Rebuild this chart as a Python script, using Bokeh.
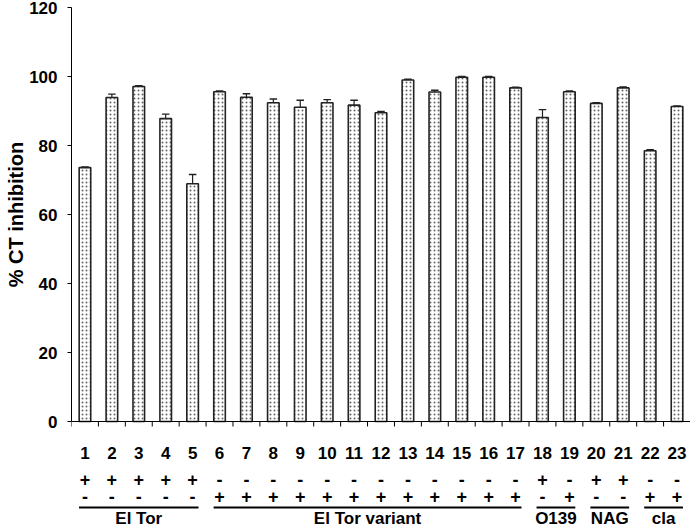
from bokeh.plotting import figure
from bokeh.models import Range1d, FixedTicker, Label, Title
from bokeh.core.properties import value
from bokeh.embed import file_html
from bokeh.resources import INLINE

# ---- data ----
strains = [str(i) for i in range(1, 24)]
inhibition = [73.6, 93.9, 97.1, 87.8, 68.9, 95.6, 94.0, 92.4, 91.1, 92.4, 91.7, 89.5,
              99.0, 95.5, 99.8, 99.8, 96.7, 88.1, 95.6, 92.2, 96.7, 78.5, 91.3]
error = [0.2, 1.0, 0.2, 1.3, 2.7, 0.2, 1.0, 1.1, 2.0, 0.9, 1.4, 0.4,
         0.2, 0.5, 0.2, 0.2, 0.2, 2.3, 0.2, 0.2, 0.3, 0.3, 0.2]
ct_et = ["+"] * 5 + ["-"] * 12 + ["+", "-", "+", "+", "-", "-"]
ct_cla = ["-"] * 5 + ["+"] * 12 + ["-", "+", "-", "-", "+", "+"]
groups = ["El Tor", "El Tor variant", "O139", "NAG", "cla"]
group_first = [1, 6, 18, 20, 22]
group_last = [5, 17, 19, 21, 23]
y_ticks = [0, 20, 40, 60, 80, 100, 120]
y_title = "% CT inhibition"

# ---- layout ----
W, H = 690, 528
LEFT, TOP = 71, 7
AXIS_PX = 414          # pixels from 0 to 120
BELOW_PX = H - TOP - AXIS_PX
PPU = AXIS_PX / 120.0
y_min = -BELOW_PX / PPU
n = len(strains)
CAT_PX = (W - LEFT) / n
TITLE_PX = 20
TITLE_LEN = 7.28 * TITLE_PX   # approx. rendered length of the title


def dy(px):
    return -px / PPU


def dx(page_x):
    return 0.5 + (page_x - LEFT) / CAT_PX


FONT = value("Liberation Sans")
xs = list(range(1, n + 1))

p = figure(width=W, height=H, output_backend="svg", toolbar_location=None,
           x_range=Range1d(0.5, n + 0.5), y_range=Range1d(y_min, 120),
           x_axis_location=None, min_border_left=LEFT, min_border_right=0,
           min_border_top=TOP, min_border_bottom=0)
p.outline_line_color = None
p.grid.grid_line_color = None
p.background_fill_color = "white"

ya = p.yaxis[0]
ya.ticker = FixedTicker(ticks=y_ticks)
ya.bounds = (0, 120)
ya.major_label_text_font = "Liberation Sans"
ya.major_label_text_font_style = "bold"
ya.major_label_text_font_size = "17px"
ya.major_label_text_color = "black"
ya.major_label_standoff = 10
ya.major_tick_out = 4
ya.major_tick_in = 0
ya.minor_tick_out = 0
ya.minor_tick_in = 0
ya.axis_line_color = "black"
ya.major_tick_line_color = "black"

# y axis title, placed so it is centred on the 0-120 span
axis_mid = TOP + AXIS_PX / 2.0
title_offset = H - (axis_mid + TITLE_LEN / 2.0)
p.add_layout(Title(text=y_title, align="left", offset=title_offset,
                   standoff=0, text_font="Liberation Sans", text_font_style="bold",
                   text_font_size="%dpx" % TITLE_PX, text_color="black"), "left")

# bars
p.vbar(x=xs, top=inhibition, bottom=0, width=0.43, fill_color="white",
       line_color="#222222", line_width=1.6, hatch_pattern="dot",
       hatch_color="#666666", hatch_scale=4, hatch_weight=1)

# error bars (upper only)
upper = [v + e for v, e in zip(inhibition, error)]
p.segment(x0=xs, y0=inhibition, x1=xs, y1=upper, line_color="#222222", line_width=1.2)
p.segment(x0=[x - 0.14 for x in xs], y0=upper, x1=[x + 0.14 for x in xs], y1=upper,
          line_color="#222222", line_width=1.4)

# x axis line and ticks at y = 0
p.segment(x0=[0.5], y0=[0], x1=[n + 0.5], y1=[0], line_color="black", line_width=1)
bounds = [i + 0.5 for i in range(0, n + 1)]
p.segment(x0=bounds, y0=[0] * len(bounds), x1=bounds, y1=[dy(5)] * len(bounds),
          line_color="black", line_width=1)

txt = dict(text_align="center", text_baseline="middle", text_font=FONT,
           text_font_style="bold", text_color="black")
p.text(x=xs, y=[dy(31)] * n, text=strains, text_font_size="17px", **txt)
p.text(x=xs, y=[dy(58)] * n, text=ct_et, text_font_size="18px", **txt)
p.text(x=xs, y=[dy(75)] * n, text=ct_cla, text_font_size="18px", **txt)

# group lines and labels
p.segment(x0=[f - 0.22 for f in group_first], y0=[dy(86)] * len(groups),
          x1=[l + 0.22 for l in group_last], y1=[dy(86)] * len(groups),
          line_color="black", line_width=2.2)
p.text(x=[(f + l) / 2 for f, l in zip(group_first, group_last)], y=[dy(97)] * len(groups),
       text=groups, text_font_size="17px", **txt)

# row labels CT^ET, CT^cla
lab = dict(x_units="data", y_units="data", text_font="Liberation Sans",
           text_font_style="bold", text_color="black", text_baseline="alphabetic")
p.add_layout(Label(x=dx(46), y=dy(67), text="CT", text_align="right",
                   text_font_size="15px", **lab))
p.add_layout(Label(x=dx(46.5), y=dy(60.5), text="ET", text_align="left",
                   text_font_size="10px", **lab))
p.add_layout(Label(x=dx(46), y=dy(82), text="CT", text_align="right",
                   text_font_size="15px", **lab))
p.add_layout(Label(x=dx(46.5), y=dy(81), text="cla", text_align="left",
                   text_font_size="11px", **lab))

open("out.html", "w").write(file_html(p, INLINE))
